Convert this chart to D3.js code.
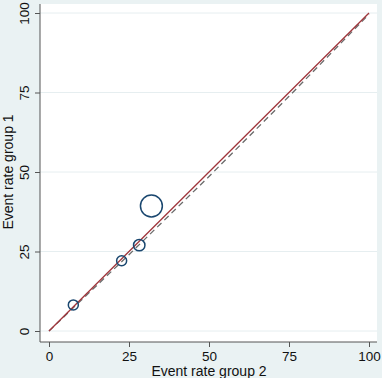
<!DOCTYPE html>
<html><head><meta charset="utf-8">
<script src="https://cdn.jsdelivr.net/npm/d3@7"></script>
<style>body{margin:0;background:#eaf2f3;}svg{display:block;font-family:"Liberation Sans",Arial,sans-serif;}</style>
</head><body>
<script>
const ticks = [0, 25, 50, 75, 100];
const rateGroup2 = [7.6, 22.7, 28.2, 32.0];
const rateGroup1 = [8.2, 22.1, 27.0, 39.3];
const weights = [1, 1, 1.3, 4.8];
const fitX = [0, 25, 50, 75, 100];
const fitY = [0, 24.0, 48.6, 73.8, 99.6];
const xTitle = "Event rate group 2";
const yTitle = "Event rate group 1";

const W = 382, H = 378;
const svg = d3.select("body").append("svg").attr("width", W).attr("height", H);
svg.append("rect").attr("width", W).attr("height", H).attr("fill", "#eaf2f3");

const plot = {l: 40, r: 377, t: 4, b: 342};
svg.append("rect").attr("x", plot.l).attr("y", plot.t)
  .attr("width", plot.r - plot.l).attr("height", plot.b - plot.t).attr("fill", "#fff");

const x = d3.scaleLinear().domain([0, 100]).range([49, 369]);
const y = d3.scaleLinear().domain([0, 100]).range([331, 13]);
const r = d3.scaleSqrt().domain([0, 1]).range([0, 5]);

// gridlines
svg.append("g").selectAll("line").data(ticks).join("line")
  .attr("x1", plot.l).attr("x2", plot.r)
  .attr("y1", d => y(d)).attr("y2", d => y(d))
  .attr("stroke", "#e6eef0").attr("stroke-width", 1);

// y axis
const ya = svg.append("g").attr("transform", `translate(${plot.l},0)`)
  .call(d3.axisLeft(y).tickValues(ticks).tickSize(5).tickPadding(3));
ya.select(".domain").attr("d", `M0,${plot.t}V${plot.b}`).attr("stroke", "#555");
ya.selectAll(".tick line").attr("stroke", "#555");
ya.selectAll(".tick text").attr("font-size", 13.5).attr("fill", "#111")
  .attr("transform", "rotate(-90)").attr("text-anchor", "middle")
  .attr("x", 0).attr("y", -11).attr("dy", 0);

// x axis
const xa = svg.append("g").attr("transform", `translate(0,${plot.b})`)
  .call(d3.axisBottom(x).tickValues(ticks).tickSize(5).tickPadding(4));
xa.select(".domain").attr("d", `M${plot.l},0H${plot.r}`).attr("stroke", "#555");
xa.selectAll(".tick line").attr("stroke", "#555");
xa.selectAll(".tick text").attr("font-size", 13.5).attr("fill", "#111");

// titles
svg.append("text").attr("x", x(50)).attr("y", 376).attr("text-anchor", "middle")
  .attr("font-size", 14).attr("fill", "#111").text(xTitle);
svg.append("text").attr("transform", `translate(13,${y(50)}) rotate(-90)`)
  .attr("text-anchor", "middle").attr("font-size", 14).attr("fill", "#111").text(yTitle);

// dashed fit line
svg.append("path").datum(fitX.map((d, i) => [d, fitY[i]]))
  .attr("d", d3.line().x(d => x(d[0])).y(d => y(d[1])))
  .attr("fill", "none").attr("stroke", "#6b6b6b").attr("stroke-width", 1.3)
  .attr("stroke-dasharray", "6,4");

// identity line
svg.append("path").datum([[0, 0], [100, 100]])
  .attr("d", d3.line().x(d => x(d[0])).y(d => y(d[1])))
  .attr("fill", "none").attr("stroke", "#a0353b").attr("stroke-width", 1.3);

// points
svg.append("g").selectAll("circle").data(rateGroup2).join("circle")
  .attr("cx", d => x(d)).attr("cy", (d, i) => y(rateGroup1[i]))
  .attr("r", (d, i) => r(weights[i]))
  .attr("fill", "none").attr("stroke", "#1a476f").attr("stroke-width", 1.5);
</script>
</body></html>
